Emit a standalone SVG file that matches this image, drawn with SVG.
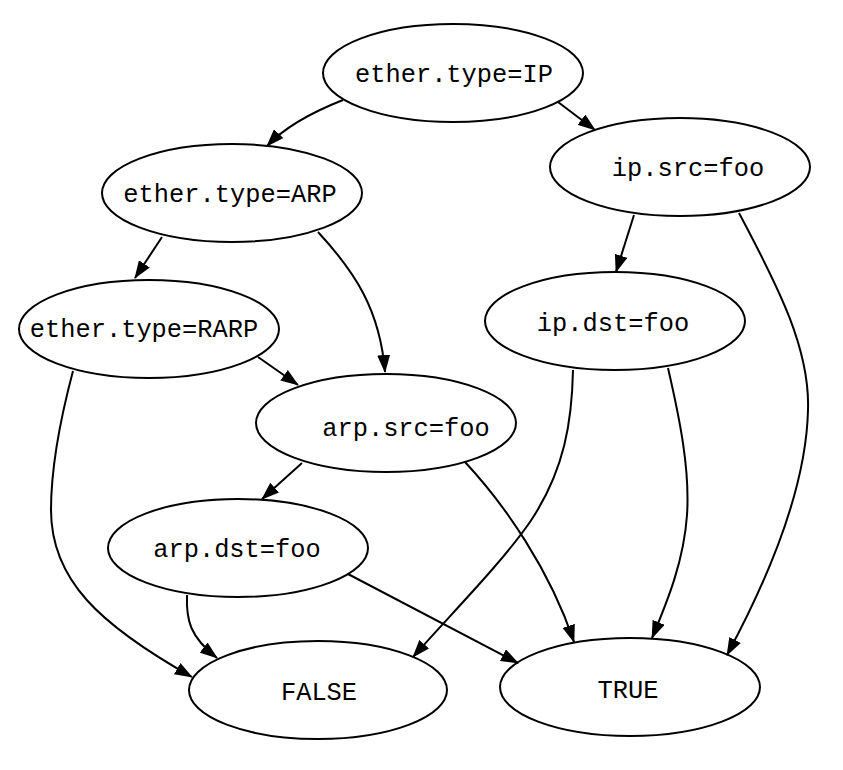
<svg xmlns="http://www.w3.org/2000/svg" width="843" height="770" viewBox="0 0 843 770">
<style>
.node ellipse{fill:none;stroke:#000;stroke-width:2}
.node text{font-family:"Liberation Mono","Courier New",monospace;font-size:25.4px;fill:#000;text-anchor:middle}
.edges path{fill:none;stroke:#000;stroke-width:2;marker-end:url(#arr)}
</style>
<defs>
<marker id="arr" markerUnits="userSpaceOnUse" markerWidth="18" markerHeight="13" viewBox="0 0 18 13" refX="17" refY="6.5" orient="auto">
<path d="M0,0 L18,6.5 L0,13 z" fill="#000"/>
</marker>
</defs>
<rect width="843" height="770" fill="#fff"/>
<g class="edges">
<path d="M343,100 C310,113 285,127 267,146"/>
<path d="M558,102 L595,130"/>
<path d="M162,237 L135,278"/>
<path d="M318,232 C355,272 380,310 385,372"/>
<path d="M634,215 L616,272"/>
<path d="M739,213 C780,290 810,350 808,410 C806,495 762,590 727,655"/>
<path d="M73,371 C60,420 51,465 51,510 C51,580 100,625 192,677"/>
<path d="M258,357 L298,385"/>
<path d="M573,370 C572,420 565,470 530,522 C500,565 450,615 413,657"/>
<path d="M668,368 C680,420 690,470 687,515 C684,560 668,600 652,638"/>
<path d="M302,463 L262,499"/>
<path d="M465,462 C505,505 550,570 574,642"/>
<path d="M187,595 C186,620 190,637 217,658"/>
<path d="M348,574 L518,663"/>
</g>
<g id="n_ether_ip" class="node"><ellipse cx="453" cy="73" rx="130" ry="49"/><text x="454" y="82">ether.type=IP</text></g>
<g id="n_ip_src" class="node"><ellipse cx="680" cy="167" rx="130" ry="49"/><text x="688" y="176">ip.src=foo</text></g>
<g id="n_ether_arp" class="node"><ellipse cx="232" cy="193" rx="130" ry="49"/><text x="230" y="202">ether.type=ARP</text></g>
<g id="n_ether_rarp" class="node"><ellipse cx="149" cy="329" rx="130" ry="49"/><text x="144" y="337">ether.type=RARP</text></g>
<g id="n_ip_dst" class="node"><ellipse cx="615" cy="321" rx="130" ry="49"/><text x="613" y="331">ip.dst=foo</text></g>
<g id="n_arp_src" class="node"><ellipse cx="386" cy="423" rx="130" ry="49"/><text x="406" y="436">arp.src=foo</text></g>
<g id="n_arp_dst" class="node"><ellipse cx="238" cy="548" rx="130" ry="49"/><text x="237" y="557">arp.dst=foo</text></g>
<g id="n_false" class="node"><ellipse cx="318" cy="690" rx="129" ry="49"/><text x="319" y="700">FALSE</text></g>
<g id="n_true" class="node"><ellipse cx="630" cy="687" rx="130" ry="49"/><text x="628" y="698">TRUE</text></g>
</svg>
